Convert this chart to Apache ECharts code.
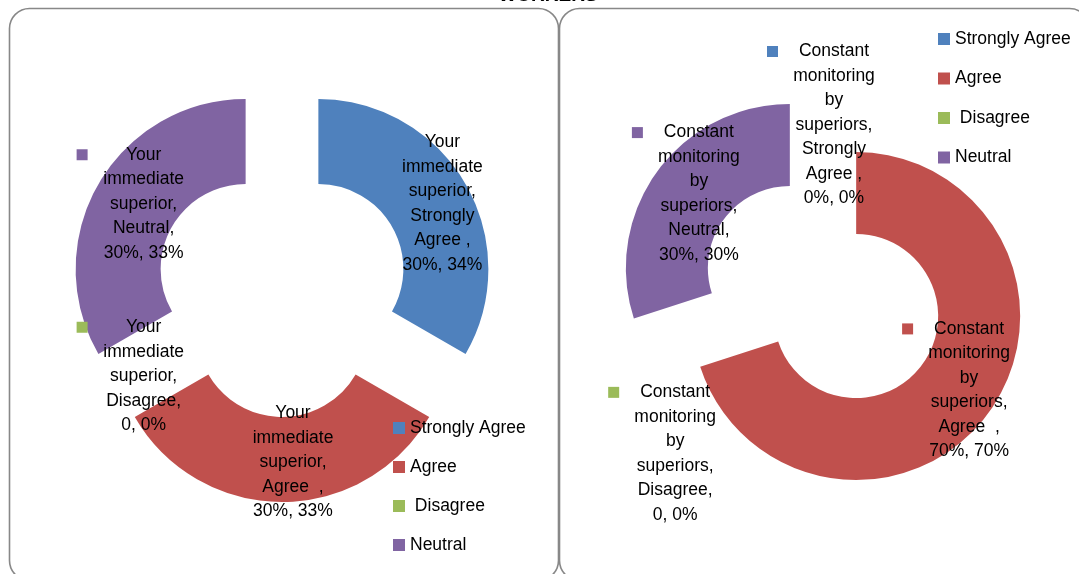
<!DOCTYPE html>
<html>
<head>
<meta charset="utf-8">
<script src="https://cdn.jsdelivr.net/npm/echarts@6/dist/echarts.min.js"></script>
<style>
  html, body { margin: 0; padding: 0; background: #fff; }
  #chart { width: 1079px; height: 574px; }
</style>
</head>
<body>
<div id="chart"></div>
<script>
// Survey answer categories (the legend text keeps the spacing of the source sheet)
const categories = ['Strongly Agree ', 'Agree  ', ' Disagree', 'Neutral'];
const colors = ['#4F81BD', '#C0504D', '#9BBB59', '#8064A2'];

// Question 1 – cell values as they are printed in the data labels
const superiorName = 'Your immediate superior';
const superiorCells = ['30%', '30%', '0', '30%'];

// Question 2
const monitoringName = 'Constant monitoring by superiors';
const monitoringCells = ['0%', '70%', '0', '30%'];

const titleText = 'WORKERS';
const FONT = '"Liberation Sans", Arial, sans-serif';

function toValue(cell) { return parseFloat(cell); }

// Multi-line data label: series name, category, value, share; a colour key sits left of the first line
function makeFormatter(cells) {
  return function (p) {
    const words = p.seriesName.split(' ');
    words[words.length - 1] += ',';
    const cat = p.name.trimStart().replace(/ (?=\S)/g, '\n') + ',';
    const lines = words.concat(cat.split('\n'));
    lines.push(cells[p.dataIndex] + ', ' + p.percent + '%');
    return lines.map(function (l, i) {
      return i === 0 ? '{k' + p.dataIndex + '|}{g|}{t|' + l + '}' : '{p|}{t|' + l + '}';
    }).join('\n');
  };
}

function makeRich(showKey) {
  const rich = {
    g: { width: 11, align: 'left' },
    p: { width: 22, align: 'left' },
    t: { width: 90, align: 'center', fontSize: 17.5, lineHeight: 24.5, fontFamily: FONT, color: '#000' }
  };
  colors.forEach(function (c, i) {
    rich['k' + i] = { width: 11, height: 11, align: 'left', backgroundColor: showKey[i] ? c : 'transparent' };
  });
  return rich;
}

function pieSeries(name, cells, center, radius, offset, showKey) {
  return {
    type: 'pie',
    name: name,
    center: center,
    radius: radius,
    startAngle: 90,
    clockwise: true,
    percentPrecision: 0,
    selectedMode: 'multiple',
    selectedOffset: offset,
    avoidLabelOverlap: false,
    animation: false,
    emphasis: { scale: false },
    select: { itemStyle: { borderWidth: 0 } },
    itemStyle: { borderWidth: 0 },
    label: {
      show: true,
      position: 'inside',
      formatter: makeFormatter(cells),
      rich: makeRich(showKey),
      fontSize: 17.5,
      lineHeight: 24.5,
      fontFamily: FONT,
      color: '#000'
    },
    labelLine: { show: false },
    data: categories.map(function (c, i) {
      return { name: c, value: toValue(cells[i]), selected: true, itemStyle: { color: colors[i] } };
    })
  };
}

function legendAt(left, top, gap) {
  return {
    orient: 'vertical',
    left: left,
    top: top,
    padding: 0,
    itemWidth: 12,
    itemHeight: 12,
    itemGap: gap,
    icon: 'rect',
    selectedMode: false,
    textStyle: { fontSize: 17.5, lineHeight: 20, fontFamily: FONT, color: '#000' },
    data: categories
  };
}

const chart = echarts.init(document.getElementById('chart'), null, { renderer: 'canvas' });

const superiorSeries = pieSeries(superiorName, superiorCells, [282, 290], [85, 170], 42, [false, false, true, true]);
const monitoringSeries = pieSeries(monitoringName, monitoringCells, [823, 292], [82, 164], 41, [true, true, true, true]);
// the zero "Disagree" label of the second ring is pushed below the ring
monitoringSeries.labelLayout = function (p) {
  return p.dataIndex === 2 ? { dy: 110 } : {};
};

chart.setOption({
  backgroundColor: '#fff',
  color: colors,
  legend: [legendAt(393, 418, 19), legendAt(938, 29, 19.5)],
  graphic: [
    {
      type: 'rect', left: 7, top: 6, z: -1,
      shape: { width: 549, height: 572, r: 20 },
      style: { fill: 'none', stroke: '#888888', lineWidth: 1.6 }
    },
    {
      type: 'rect', left: 557, top: 6, z: -1,
      shape: { width: 530, height: 572, r: 20 },
      style: { fill: 'none', stroke: '#888888', lineWidth: 1.6 }
    },
    {
      type: 'text', x: 548, y: 5,
      style: {
        text: titleText, fontSize: 19, fontWeight: 'bold', fontFamily: FONT,
        fill: '#000', align: 'center', verticalAlign: 'bottom'
      }
    }
  ],
  series: [superiorSeries, monitoringSeries]
});
</script>
</body>
</html>
